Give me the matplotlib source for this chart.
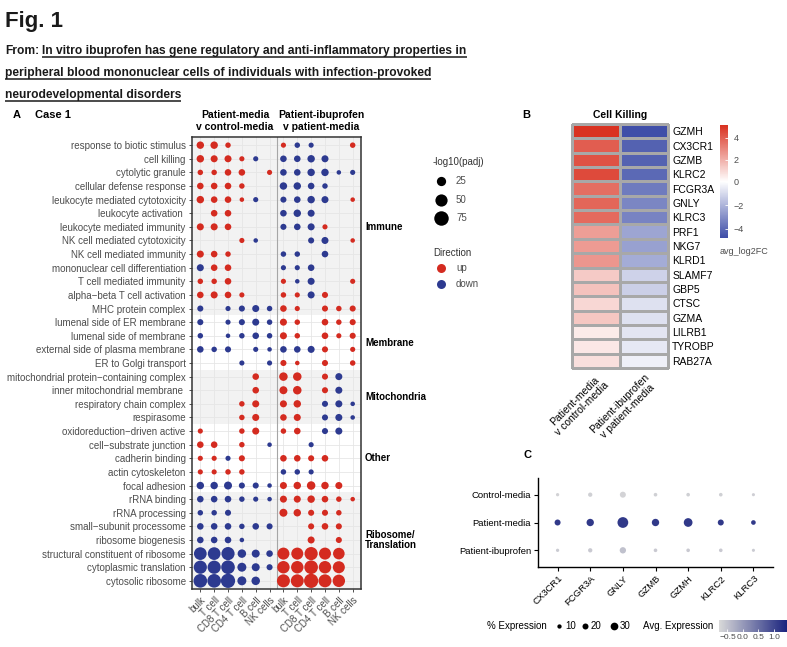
import numpy as np
import matplotlib
matplotlib.use('Agg')
import matplotlib.pyplot as plt
from matplotlib import font_manager
from matplotlib import transforms
from matplotlib.colors import LinearSegmentedColormap, TwoSlopeNorm, Normalize

W, H = 787, 647
DPI = 100
PT = 72.0 / DPI   # points per pixel

plt.rcParams['font.family'] = ['Liberation Sans', 'DejaVu Sans']

try:
    font_manager.findfont('Liberation Sans Narrow', fallback_to_default=False)
    head_font = ['Liberation Sans Narrow', 'DejaVu Sans']
except ValueError:
    head_font = ['Liberation Sans', 'DejaVu Sans']

# ---------------- panel A data ----------------
go_terms = ['response to biotic stimulus', 'cell killing', 'cytolytic granule',
            'cellular defense response', 'leukocyte mediated cytotoxicity',
            'leukocyte activation ', 'leukocyte mediated immunity',
            'NK cell mediated cytotoxicity', 'NK cell mediated immunity',
            'mononuclear cell differentiation', 'T cell mediated immunity',
            'alpha\u2212beta T cell activation', 'MHC protein complex',
            'lumenal side of ER membrane', 'lumenal side of membrane',
            'external side of plasma membrane', 'ER to Golgi transport',
            'mitochondrial protein\u2212containing complex', 'inner mitochondrial membrane ',
            'respiratory chain complex', 'respirasome', 'oxidoreduction\u2212driven active',
            'cell\u2212substrate junction', 'cadherin binding', 'actin cytoskeleton',
            'focal adhesion', 'rRNA binding', 'rRNA processing',
            'small\u2212subunit processome', 'ribosome biogenesis',
            'structural constituent of ribosome', 'cytoplasmic translation',
            'cytosolic ribosome']
cell_types = ['bulk', 'T cell', 'CD8 T cell', 'CD4 T cell', 'B cell', 'NK cells']
# -log10(padj), sign = direction (+ up, - down), 0 = not significant
# first 6: patient-media v control-media, last 6: patient-ibuprofen v patient-media
go_nlogp = [
    [14, 14, 6, 0, 0, 0, 5, -6, -5, 0, 0, 6],
    [14, 12, 12, 5, -5, 0, -10, -10, -14, -12, 0, 0],
    [6, 6, 10, 10, 0, 5, -10, -10, -14, -14, -3.5, -5],
    [10, 10, 10, 6, 0, 0, -14, -14, -10, -6, 0, 0],
    [14, 10, 10, 3.5, -5, 0, -8, -10, -14, -12, 0, 3.5],
    [0, 10, 10, 0, 0, 0, -10, -14, -12, 0, 0, 0],
    [12, 12, 10, 0, 0, 0, -8, -10, -12, 5, 0, 0],
    [0, 0, 0, 5, -3.5, 0, 0, 0, -8, -12, 0, 3.5],
    [12, 10, 6, 0, 0, 0, -6, -6, 0, -10, 0, 0],
    [-12, 10, 10, 0, 0, 0, -5, -5, -10, 0, 0, 0],
    [6, 6, 10, 0, 0, 0, 5, -3.5, -12, 0, 0, 5],
    [10, 12, 10, 5, 0, 0, 6, 5, -12, 8, 0, 0],
    [-8, 0, -5, -8, -12, -6, 10, 5, 0, 8, 6, 8],
    [-8, 0, -5, -8, -12, -6, 12, 6, 0, 10, 6, 8],
    [-6, 0, -3.5, -6, -10, -6, 12, 6, 0, 10, 5, 8],
    [-10, -6, -8, 0, -5, -3.5, -10, -10, -12, 8, 0, 5],
    [0, 0, 0, -5, 0, -5, 8, 3.5, 0, 8, 0, 6],
    [0, 0, 0, 0, 10, 0, 20, 20, 0, 8, -12, 0],
    [0, 0, 0, 0, 10, 0, 17, 20, 0, 8, -12, 0],
    [0, 0, 0, 6, 12, 0, 12, 14, 0, -8, -12, -3.5],
    [0, 0, 0, 6, 12, 0, 10, 12, 0, -8, -12, -3.5],
    [5, 0, 0, 6, 12, 0, 6, 10, 0, -8, -12, 0],
    [10, 10, 0, 6, 0, -3.5, 0, 0, -5, 0, 0, 0],
    [5, 5, -5, 8, 0, 0, 10, 10, 8, 10, 0, 0],
    [5, 5, 6, 6, 0, 0, -6, -6, -5, 0, 0, 0],
    [-14, -14, -17, -8, -8, -3.5, 12, 14, 20, 14, 12, 0],
    [-10, -10, -10, -6, -5, -3.5, 12, 12, 14, 10, 6, 3.5],
    [-6, -6, -8, 0, 0, 0, 17, 14, 8, 8, 6, 0],
    [-10, -10, -10, -6, -10, -8, 0, 0, 8, 10, 8, 0],
    [-10, -10, -10, -3.5, 0, 0, 0, 0, 12, 0, 8, 0],
    [-55, -55, -60, -20, -17, -10, 48, 48, 60, 48, 44, 0],
    [-60, -60, -65, -23, -17, -8, 52, 52, 65, 52, 48, 0],
    [-65, -65, -72, -23, -20, 0, 58, 58, 72, 58, 52, 0],
]
go_groups = ['Immune', 'Membrane', 'Mitochondria', 'Other', 'Ribosome/\nTranslation']
go_group_first = [0, 13, 17, 21, 26]
go_group_last = [12, 16, 20, 25, 32]
size_breaks = [25, 50, 75]

# ---------------- panel B data ----------------
kill_genes = ['GZMH', 'CX3CR1', 'GZMB', 'KLRC2', 'FCGR3A', 'GNLY', 'KLRC3', 'PRF1',
              'NKG7', 'KLRD1', 'SLAMF7', 'GBP5', 'CTSC', 'GZMA', 'LILRB1', 'TYROBP', 'RAB27A']
fc_pm_vs_cm = [5.1, 4.0, 4.3, 4.5, 3.6, 3.8, 3.7, 2.4, 2.5, 2.6, 1.3, 1.5, 1.0, 1.4, 0.5, 0.6, 0.8]
fc_ibu_vs_pm = [-4.7, -4.2, -4.2, -4.0, -3.5, -3.2, -3.3, -2.4, -2.5, -2.2, -1.2, -1.3,
                -0.8, -0.8, -0.7, -0.6, -0.4]
heat_cols = ['Patient-media\nv control-media', 'Patient-ibuprofen\nv patient-media']

# ---------------- panel C data ----------------
dot_genes = ['CX3CR1', 'FCGR3A', 'GNLY', 'GZMB', 'GZMH', 'KLRC2', 'KLRC3']
dot_groups = ['Control-media', 'Patient-media', 'Patient-ibuprofen']
pct_control = [4, 10, 20, 6, 6, 6, 3]
pct_patient = [20, 28, 48, 28, 36, 20, 12]
pct_ibu = [4, 10, 22, 6, 6, 6, 3]
avg_control = [-0.68, -0.66, -0.70, -0.66, -0.66, -0.66, -0.64]
avg_patient = [1.15, 1.15, 1.15, 1.15, 1.15, 1.15, 1.15]
avg_ibu = [-0.60, -0.58, -0.48, -0.58, -0.58, -0.58, -0.60]
pct_breaks = [10, 20, 30]

RED = '#D42B20'
BLUE = '#2D3A90'
GREY_TXT = '#4D4D4D'


def go_size(v):
    d_px = 2.45 + 12.25 * np.sqrt(np.clip((np.asarray(v, float) - 1.3) / 76.7, 0, None))
    return (d_px * PT) ** 2


def pct_size(p):
    d_px = 2.6 + 0.17 * np.asarray(p, float)
    return (d_px * PT) ** 2


fig = plt.figure(figsize=(W / DPI, H / DPI), dpi=DPI)


def px_axes(x0, y0, x1, y1):
    return fig.add_axes([x0 / W, 1 - y1 / H, (x1 - x0) / W, (y1 - y0) / H])


fa = fig.add_axes([0, 0, 1, 1])
fa.set_xlim(0, W)
fa.set_ylim(H, 0)
fa.axis('off')

# ---------------- header ----------------
TXT = '#1A1A1A'
fa.text(5, 27, 'Fig. 1', fontsize=16, fontweight='bold', family=head_font,
        ha='left', va='baseline', color=TXT)
title_lines = ['In vitro ibuprofen has gene regulatory and anti-inflammatory properties in',
               'peripheral blood mononuclear cells of individuals with infection-provoked',
               'neurodevelopmental disorders']
renderer = fig.canvas.get_renderer()
t_from = fa.text(5, 54, 'From:', fontsize=12, fontweight='bold', family=head_font,
                 ha='left', va='baseline', color=TXT)
t_lines = [fa.text(5, 54 + 22 * i, s, fontsize=12, fontweight='bold', family=head_font,
                   ha='left', va='baseline', color=TXT) for i, s in enumerate(title_lines)]


def layout_first(fs):
    for t in [t_from] + t_lines:
        t.set_fontsize(fs)
    bb = t_from.get_window_extent(renderer)
    t_lines[0].set_x(bb.x1 + fs / PT * 0.28)
    return t_lines[0].get_window_extent(renderer).x1 - bb.x0


fs = 12.0
for _ in range(3):
    fs = fs * 461.0 / layout_first(fs)
layout_first(fs)
for i, t in enumerate(t_lines):
    bb = t.get_window_extent(renderer)
    yb = 54 + 22 * i + 3
    fa.plot([bb.x0, bb.x1], [yb, yb], color=TXT, lw=1.1, solid_capstyle='butt')

# ---------------- panel A ----------------
axA = px_axes(192, 137, 361, 589)
vals = np.array(go_nlogp, dtype=float)
nrow, ncol = vals.shape
axA.set_xlim(-0.6, ncol - 0.4)
axA.set_ylim(nrow - 0.4, -0.6)
for k, (r0, r1) in enumerate(zip(go_group_first, go_group_last)):
    if k % 2 == 0:
        axA.axhspan(max(r0 - 0.5, -0.6), min(r1 + 0.5, nrow - 0.4), color='#F2F2F2', lw=0, zorder=0)
axA.set_axisbelow(True)
axA.grid(color='#E6E6E6', lw=0.6)
rr, cc = np.nonzero(vals)
v = vals[rr, cc]
axA.scatter(cc, rr, s=go_size(np.abs(v)), c=np.where(v > 0, RED, BLUE), lw=0, zorder=3)
axA.axvline(5.5, color='#A6A6A6', lw=0.8, zorder=2)
axA.set_yticks(range(nrow))
axA.set_yticklabels(go_terms)
axA.set_xticks(range(ncol))
axA.set_xticklabels(cell_types + cell_types, rotation=45, ha='right', rotation_mode='anchor')
axA.tick_params(length=2.5, width=0.6, color='#333333', labelsize=7, labelcolor=GREY_TXT, pad=2)
for sp in axA.spines.values():
    sp.set_color('#333333')
    sp.set_linewidth(1.1)
blend = transforms.blended_transform_factory(axA.transAxes, axA.transData)
for name, r0, r1 in zip(go_groups, go_group_first, go_group_last):
    axA.text(1.024, (r0 + r1) / 2, name, transform=blend, ha='left', va='center',
             fontsize=7, fontweight='bold', linespacing=1.1)

fa.text(13, 115, 'A', fontsize=8, fontweight='bold', va='center')
fa.text(35, 115, 'Case 1', fontsize=8, fontweight='bold', va='center')
fa.text(235, 121, 'Patient-media\nv control-media', fontsize=7.5, fontweight='bold',
        ha='center', va='center', linespacing=1.15)
fa.text(321, 121, 'Patient-ibuprofen\nv patient-media', fontsize=7.5, fontweight='bold',
        ha='center', va='center', linespacing=1.15)

# legend A
fa.text(433, 162, '-log10(padj)', fontsize=7, color='#333333', va='center')
for b, yy in zip(size_breaks, [181, 200, 218]):
    fa.scatter(441, yy, s=go_size(b), c='black', lw=0)
    fa.text(456, yy, str(b), fontsize=7, color=GREY_TXT, va='center')
fa.text(433, 253, 'Direction', fontsize=7, color='#333333', va='center')
for lab, col, yy in zip(['up', 'down'], [RED, BLUE], [268, 284]):
    fa.scatter(441, yy, s=(9 * PT) ** 2, c=col, lw=0)
    fa.text(456, yy, lab, fontsize=7, color=GREY_TXT, va='center')

# ---------------- panel B ----------------
axB = px_axes(572, 124, 668, 368)
fc = np.array([fc_pm_vs_cm, fc_ibu_vs_pm]).T
cmapB = LinearSegmentedColormap.from_list('bwr_b', ['#3D4DA7', '#FFFFFF', '#D9301F'])
normB = TwoSlopeNorm(vmin=-4.76, vcenter=0, vmax=5.17)
mesh = axB.pcolormesh(fc, cmap=cmapB, norm=normB, edgecolors='#A8A8A8', linewidth=1.0)
mesh.set_clip_on(False)
axB.set_xlim(0, 2)
axB.set_ylim(len(kill_genes), 0)
axB.set_yticks(np.arange(len(kill_genes)) + 0.5)
axB.set_yticklabels(kill_genes)
axB.yaxis.tick_right()
axB.set_xticks([0.5, 1.5])
axB.set_xticklabels(heat_cols, rotation=45, ha='right', rotation_mode='anchor',
                    multialignment='center', linespacing=1.1)
axB.tick_params(length=0, labelsize=7.5, pad=3)
for sp in axB.spines.values():
    sp.set_visible(False)
fa.text(522, 115, 'B', fontsize=8, fontweight='bold', va='center')
fa.text(620, 115, 'Cell Killing', fontsize=7.5, fontweight='bold', va='center', ha='center')
caxB = px_axes(720, 125, 728, 238)
cbB = fig.colorbar(mesh, cax=caxB, ticks=[-4, -2, 0, 2, 4])
cbB.outline.set_visible(False)
caxB.tick_params(length=2, width=0.6, color='white', direction='in', labelsize=6.5,
                 labelcolor=GREY_TXT, pad=4)
fa.text(720, 251, 'avg_log2FC', fontsize=6.5, color=GREY_TXT, va='center')

# ---------------- panel C ----------------
axC = px_axes(538, 478, 773, 567)
pct = np.array([pct_control, pct_patient, pct_ibu], dtype=float)
avg = np.array([avg_control, avg_patient, avg_ibu], dtype=float)
cmapC = LinearSegmentedColormap.from_list('grey_blue', ['#D9D9D9', '#1A237E'])
normC = Normalize(vmin=-0.774, vmax=1.42)
gx, gy = np.meshgrid(np.arange(len(dot_genes)), np.arange(len(dot_groups)))
sc = axC.scatter(gx.ravel(), gy.ravel(), s=pct_size(pct.ravel()), c=avg.ravel(),
                 cmap=cmapC, norm=normC, lw=0)
axC.set_xlim(-0.6, len(dot_genes) - 0.4)
axC.set_ylim(len(dot_groups) - 0.4, -0.6)
axC.set_xticks(range(len(dot_genes)))
axC.set_xticklabels(dot_genes, rotation=45, ha='right', rotation_mode='anchor')
axC.set_yticks(range(len(dot_groups)))
axC.set_yticklabels(dot_groups)
axC.spines['top'].set_visible(False)
axC.spines['right'].set_visible(False)
for sp in ['left', 'bottom']:
    axC.spines[sp].set_linewidth(1.0)
axC.tick_params(length=3, width=0.8, labelsize=6.8, pad=2)
fa.text(524, 455, 'C', fontsize=8, fontweight='bold', va='center')

# legend C
fa.text(487, 626, '% Expression', fontsize=7, va='center')
for b, xx in zip(pct_breaks, [559, 585, 614]):
    fa.scatter(xx, 626, s=pct_size(b), c='black', lw=0)
    fa.text(xx + 6, 626, str(b), fontsize=7, va='center')
fa.text(643, 626, 'Avg. Expression', fontsize=7, va='center')
caxC = px_axes(719, 620, 787, 632)
cbC = fig.colorbar(sc, cax=caxC, orientation='horizontal', ticks=[-0.5, 0, 0.5, 1.0])
cbC.outline.set_visible(False)
cbC.ax.set_xticklabels(['\u22120.5', '0.0', '0.5', '1.0'])
caxC.tick_params(length=2.5, width=0.6, color='white', direction='in', labelsize=6,
                 labelcolor=GREY_TXT, pad=1.5)

fig.savefig('out.png', dpi=DPI)
